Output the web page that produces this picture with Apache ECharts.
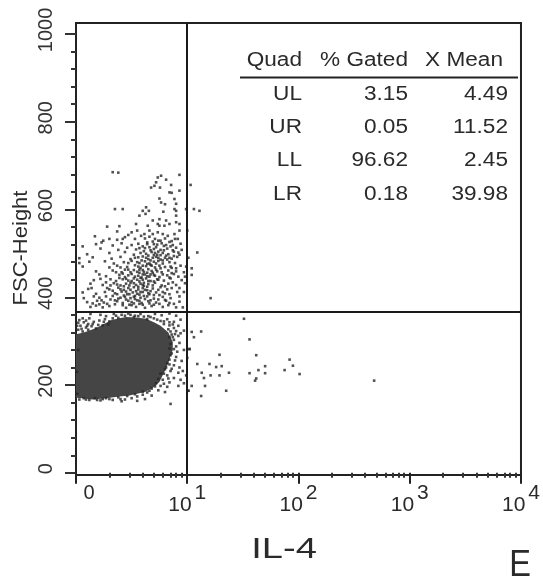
<!DOCTYPE html>
<html>
<head>
<meta charset="utf-8">
<style>html,body{margin:0;padding:0;background:#fff}#main{width:543px;height:582px}</style>
<script src="https://cdn.jsdelivr.net/npm/echarts@6/dist/echarts.min.js"></script>
</head>
<body>
<div id="main"></div>
<script>
// x is stored in decades of IL-4 fluorescence (1 = 10^1), y in FSC-Height channels
var xMajor = [0, 1, 2, 3, 4];
var xMinor = [0.30,0.48,0.60,0.70,0.78,0.85,0.90,0.95,
              1.30,1.48,1.60,1.70,1.78,1.85,1.90,1.95,
              2.30,2.48,2.60,2.70,2.78,2.85,2.90,2.95,
              3.30,3.48,3.60,3.70,3.78,3.85,3.90,3.95];
var yMajor = [0, 200, 400, 600, 800, 1000];
var yMinor = [40,80,120,160,240,280,320,360,440,480,520,560,640,680,720,760,840,880,920,960];
var gateX = 1;
var gateY = 367;

var tableHead = ['Quad', '% Gated', 'X Mean'];
var quadNames = ['UL', 'UR', 'LL', 'LR'];
var pctGated = ['3.15', '0.05', '96.62', '0.18'];
var xMean = ['4.49', '11.52', '2.45', '39.98'];

// saturated part of the LL population, individual events cannot be told apart there
var coreOutline = [[0,316],[0.07,320],[0.14,326],[0.20,332],[0.26,340],[0.32,348],[0.39,352],[0.45,355],[0.54,354],[0.63,351],
  [0.70,343],[0.76,335],[0.83,320],[0.87,298],[0.87,280],[0.85,267],[0.83,250],[0.80,233],[0.75,207],[0.69,194],[0.62,184],
  [0.48,176],[0.39,174],[0.27,170],[0.15,167],[0.06,170],[0,171]];

var upperEvents = [[0.33,685],[0.38,684],[0.735,673],[0.765,677],[0.72,662],[0.705,654],[0.675,650],[0.755,650],
  [0.93,679],[0.81,668],[0.855,656],[0.93,643],[0.84,639],[0.86,638],[0.75,625],[0.765,616],[0.80,612],[0.885,624],
  [0.90,613],[0.885,601],[0.35,601],[0.42,601],[0.63,605],[0.60,597],[0.655,597],[0.625,590],[0.785,595],[0.90,597],
  [0.90,586],[0.99,601],[1.06,601],[1.11,597],[1.03,656],[0.57,586],[0.54,567],[0.69,575],[0.75,578],[0.81,575],
  [0.90,571],[0.645,563],[0.735,567],[0.84,567],[0.66,552],[0.75,563],[0.795,563],[0.93,567],[0.28,561],[0.39,562],
  [0.37,550],[0.55,552],[0.50,548],[0.47,542],[0.44,537],[0.17,539],[0.245,529],[0.23,525],[0.30,533],[0.37,531],
  [0.42,533],[0.53,533],[0.585,540],[0.615,544],[0.69,544],[0.735,548],[0.78,544],[0.825,540],[0.885,544],[0.93,552],
  [1.0,552],[0.915,533],[0.18,521],[0.33,518],[0.41,523],[0.50,519],[0.56,522],[0.60,516],[0.64,525],[0.70,521],
  [0.74,529],[0.79,517],[0.84,526],[0.87,519],[0.94,522],[0.06,516],[0.22,511],[0.38,508],[0.46,513],[0.54,509],
  [0.62,512],[0.67,507],[0.72,514],[0.76,508],[0.82,511],[0.90,513],[0.95,508],[1.09,502],[0.10,498],[0.30,501],
  [0.44,503],[0.52,497],[0.58,501],[0.63,499],[0.68,503],[0.73,497],[0.78,501],[0.83,498],[0.88,504],[0.93,497],
  [0.03,489],[0.15,491],[0.32,488],[0.40,492],[0.49,487],[0.56,491],[0.60,493],[0.65,487],[0.69,490],[0.72,492],
  [0.76,486],[0.80,490],[0.86,488],[0.91,492],[0.03,478],[0.12,481],[0.26,482],[0.34,477],[0.43,480],[0.50,483],
  [0.57,478],[0.62,482],[0.66,477],[0.70,481],[0.74,483],[0.78,477],[0.84,480],[0.89,478],[0.06,470],[0.30,468],
  [0.37,472],[0.46,469],[0.53,473],[0.58,467],[0.63,471],[0.67,474],[0.71,468],[0.75,472],[0.80,469],[0.86,467],
  [0.94,472],[1.04,466],[0.18,459],[0.33,461],[0.41,457],[0.47,463],[0.55,458],[0.60,462],[0.64,456],[0.68,460],
  [0.72,463],[0.77,457],[0.83,461],[0.90,459],[0.97,457],[0.21,452],[0.27,448],[0.39,451],[0.44,446],[0.50,453],
  [0.56,449],[0.59,445],[0.62,452],[0.66,447],[0.70,451],[0.75,446],[0.82,450],[0.88,453],[0.98,447],[1.04,451],
  [0.16,439],[0.22,442],[0.36,437],[0.42,441],[0.47,438],[0.52,443],[0.57,436],[0.60,440],[0.63,443],[0.67,437],
  [0.73,441],[0.79,438],[0.85,443],[0.95,439],[0.13,431],[0.24,428],[0.34,432],[0.40,427],[0.45,431],[0.49,433],
  [0.54,428],[0.58,431],[0.61,426],[0.65,430],[0.71,433],[0.77,427],[0.83,431],[0.90,428],[0.11,419],[0.14,421],
  [0.30,418],[0.38,422],[0.43,417],[0.47,421],[0.52,423],[0.56,418],[0.60,421],[0.64,416],[0.69,420],[0.76,423],
  [0.82,418],[0.93,421],[0.06,411],[0.18,408],[0.26,412],[0.35,409],[0.41,413],[0.46,407],[0.51,411],[0.55,408],
  [0.60,412],[0.66,407],[0.72,411],[0.80,409],[0.91,412],[0.07,398],[0.16,402],[0.21,399],[0.33,403],[0.38,397],
  [0.44,401],[0.49,398],[0.53,403],[0.58,399],[0.64,402],[0.70,397],[0.78,401],[0.85,398],[0.93,402],[1.21,398],
  [0.10,389],[0.19,392],[0.25,388],[0.37,391],[0.42,387],[0.47,392],[0.50,389],[0.55,393],[0.59,387],[0.65,391],
  [0.72,388],[0.81,392],[0.84,387],[0.93,390],[0.13,378],[0.18,381],[0.24,377],[0.30,380],[0.45,376],[0.50,382],
  [0.54,378],[0.60,383],[0.62,376],[0.68,380],[0.78,378],[0.83,382],[0.90,377]];

// the darker diagonal of the UL population
var upperDense = [[0.62,534],[0.66,538],[0.71,533],[0.76,529],[0.80,534],[0.64,521],[0.69,527],[0.73,520],[0.77,523],[0.81,519],
  [0.66,514],[0.70,510],[0.74,504],[0.79,507],[0.71,501],[0.76,496],[0.81,495],[0.65,495],[0.61,505],[0.57,512],
  [0.70,496],[0.74,490],[0.78,484],[0.82,486],[0.67,484],[0.63,490],[0.59,484],[0.55,480],[0.53,490],[0.47,478],
  [0.72,477],[0.68,472],[0.64,476],[0.60,472],[0.56,470],[0.76,466],[0.73,459],[0.69,456],[0.65,464],[0.61,458],
  [0.57,463],[0.52,462],[0.49,457],[0.44,463],[0.40,468],[0.71,449],[0.67,452],[0.64,448],[0.60,452],[0.57,456],
  [0.53,447],[0.47,450],[0.42,454],[0.36,457],[0.78,452],[0.74,440],[0.70,436],[0.65,437],[0.61,433],[0.58,444],
  [0.55,440],[0.50,437],[0.45,442],[0.39,444],[0.31,441],[0.69,427],[0.64,424],[0.60,428],[0.56,424],[0.52,432],
  [0.48,427],[0.43,425],[0.37,429],[0.31,427],[0.27,434],[0.74,417],[0.67,414],[0.62,417],[0.58,412],[0.54,414],
  [0.49,417],[0.45,413],[0.40,418],[0.33,415],[0.28,421],[0.70,405],[0.65,409],[0.61,403],[0.57,406],[0.52,401],
  [0.48,407],[0.43,404],[0.37,407],[0.31,395],[0.27,402],[0.74,395],[0.67,393],[0.62,396],[0.57,392],[0.53,396],
  [0.45,395],[0.40,399],[0.35,393],[0.23,393],[0.15,386],[0.75,385],[0.70,383],[0.66,386],[0.57,385],[0.52,386],
  [0.48,383],[0.42,382],[0.35,384],[0.28,385],[0.21,384],[0.86,528],[0.89,533],[0.87,507],[0.85,516],[0.92,502],
  [0.84,490],[0.88,494],[0.85,470],[0.90,466],[0.86,455],[0.92,447],[0.84,445],[0.87,434],[0.80,425],[0.86,421],
  [0.78,412],[0.84,407],[0.75,405],[0.80,394],[0.88,385],[0.96,377],[0.97,412],[0.98,432],[0.99,470],[1.01,490]];

// fringe of the LL population, around the saturated part
var lowerEvents = [[0.13,362],[0.22,360],[0.27,357],[0.34,362],[0.41,360],[0.47,363],[0.53,358],[0.58,362],[0.65,357],
  [0.71,362],[0.77,359],[0.84,363],[0.90,358],[0.38,353],[0.52,355],[0.64,350],[0.70,352],[0.76,346],[0.82,350],
  [0.88,344],[0.94,349],[0.03,348],[0.07,343],[0.11,339],[0.04,335],[0.09,331],[0.14,334],[0.18,329],[0.02,326],
  [0.06,322],[0.11,326],[0.24,336],[0.29,338],[0.33,352],[0.84,336],[0.88,330],[0.79,339],[0.92,335],[0.97,324],
  [0.85,322],[0.89,316],[0.84,309],[0.88,303],[0.92,312],[0.85,294],[0.90,288],[0.84,283],[0.93,296],[0.97,280],
  [1.02,282],[1.0,262],[0.86,272],[0.90,264],[0.84,258],[0.95,255],[0.82,250],[0.88,245],[0.93,240],[0.80,236],
  [0.85,232],[0.92,228],[0.96,232],[0.99,222],[0.76,226],[0.82,222],[0.88,216],[0.94,212],[0.78,212],[0.84,206],
  [0.72,204],[0.76,198],[0.82,196],[0.92,198],[0.97,204],[1.01,187],[0.68,192],[0.74,188],[0.80,184],[0.64,183],
  [0.60,178],[0.68,176],[0.85,157],[0.55,174],[0.62,168],[0.50,170],[0.44,167],[0.38,172],[0.33,166],[0.27,170],
  [0.22,165],[0.17,170],[0.12,166],[0.07,170],[0.03,167],[0.55,164],[0.41,163],[0.01,180],[0.01,230],[0.02,280],
  [0.16,344],[0.21,347],[0.26,350],[0.30,345],[0.36,358],[0.44,358],[0.49,360],[0.56,357],[0.61,356],[0.67,355],
  [0.73,349],[0.79,345],[0.84,343],[0.87,338],[0.83,327],[0.86,315],[0.90,323],[0.94,318],[0.87,309],[0.88,282],
  [0.91,276],[0.85,268],[0.89,256],[0.84,247],[0.81,240],[0.86,237],[0.79,226],[0.83,215],[0.74,214],[0.79,203],
  [0.71,197],[0.66,187],[0.60,185],[0.53,179],[0.46,175],[0.40,168],[0.30,168],[0.24,168],[0.19,166],[0.09,167],
  [0.01,335],[0.05,328],[0.10,335],[0.15,339],[0.20,337],[0.25,344],[0.02,342],[0.06,352],[0.09,347],[0.12,352]];

var rightEvents = [[1.51,351],[1.04,321],[1.125,322],[1.06,309],[1.56,304],[1.02,282],[1.29,269],[1.62,268],[1.92,258],
  [1.95,244],[1.70,243],[1.875,234],[2.01,225],[1.64,234],[1.70,227],[1.56,227],[1.62,215],[1.61,210],[1.09,248],
  [1.20,248],[1.26,241],[1.31,243],[1.13,228],[1.15,216],[1.21,222],[1.29,222],[1.375,228],[1.04,198],[1.16,198],
  [1.35,187],[1.125,175],[1.01,187],[2.68,210]];

var textColor = '#2a2a2a';
var textFont = 'Liberation Sans, Arial, sans-serif';

function stretched(str, x, y, opts) {
  opts = opts || {};
  return {
    type: 'text',
    x: x,
    y: y,
    rotation: opts.rotation || 0,
    scaleX: opts.scaleX || 1.13,
    silent: true,
    style: {
      text: str,
      fontFamily: textFont,
      fontSize: opts.size || 20,
      fill: textColor,
      textAlign: opts.align || 'right',
      textVerticalAlign: 'middle'
    }
  };
}

var graphics = [];
[[302, tableHead[0]], [408, tableHead[1]], [503, tableHead[2]]].forEach(function (h) {
  graphics.push(stretched(h[1], h[0], 60));
});
graphics.push({
  type: 'line', silent: true,
  shape: {x1: 240, y1: 77.5, x2: 518, y2: 77.5},
  style: {stroke: '#222', lineWidth: 2}
});
var rowY = [94.5, 127, 160.5, 194.5];
quadNames.forEach(function (q, i) {
  graphics.push(stretched(q, 302, rowY[i]));
  graphics.push(stretched(pctGated[i], 408, rowY[i]));
  graphics.push(stretched(xMean[i], 508, rowY[i]));
});
graphics.push(stretched('FSC-Height', 21, 248, {rotation: Math.PI / 2, align: 'center', scaleX: 1.1}));
graphics.push(stretched('IL-4', 284, 550, {size: 30, align: 'center', scaleX: 1.27}));
graphics.push(stretched('E', 520, 566, {size: 37, align: 'center', scaleX: 0.88}));

var dotSeries = function (name, data) {
  return {
    name: name,
    type: 'scatter',
    symbol: 'rect',
    symbolSize: 2.6,
    silent: true,
    itemStyle: {color: '#262626'},
    data: data
  };
};

var chart = echarts.init(document.getElementById('main'));
chart.setOption({
  animation: false,
  backgroundColor: '#fff',
  graphic: graphics,
  grid: {left: 76, top: 23, right: 18, bottom: 107, show: true, borderColor: '#222', borderWidth: 2, backgroundColor: 'transparent'},
  xAxis: [
    {
      type: 'value', min: 0, max: 4, position: 'bottom',
      splitLine: {show: false},
      axisLine: {show: false},
      axisTick: {customValues: xMajor, length: 11, lineStyle: {color: '#222', width: 2}},
      axisLabel: {
        customValues: xMajor, margin: 8, showMinLabel: true, showMaxLabel: true, hideOverlap: false,
        formatter: function (v) {
          return v === 0 ? '{z|0}' : '{b|10}{s|' + v + '}';
        },
        rich: {
          z: {fontFamily: textFont, fontSize: 20, color: textColor, padding: [0, 0, 12, 26]},
          b: {fontFamily: textFont, fontSize: 21, color: textColor, padding: [12, 0, 0, 0]},
          s: {fontFamily: textFont, fontSize: 21, color: textColor, padding: [0, 0, 12, 3]}
        }
      }
    },
    {
      type: 'value', min: 0, max: 4, position: 'bottom',
      splitLine: {show: false},
      axisLine: {show: false},
      axisLabel: {show: false},
      axisTick: {customValues: xMinor, length: 5, lineStyle: {color: '#333', width: 2}}
    }
  ],
  yAxis: [
    {
      type: 'value', min: -5, max: 1025, position: 'left',
      splitLine: {show: false},
      axisLine: {show: false},
      axisTick: {customValues: yMajor, length: 11, lineStyle: {color: '#333', width: 2}},
      axisLabel: {
        customValues: yMajor, rotate: 90, margin: 20,
        fontFamily: textFont, fontSize: 20, color: '#333',
        padding: [0, 0, 0, 8],
        formatter: function (v) { return String(v); }
      }
    },
    {
      type: 'value', min: -5, max: 1025, position: 'left',
      splitLine: {show: false},
      axisLine: {show: false},
      axisLabel: {show: false},
      axisTick: {customValues: yMinor, length: 5, lineStyle: {color: '#333', width: 2}}
    }
  ],
  series: [
    {
      name: 'LL core',
      type: 'custom',
      silent: true,
      data: [0],
      renderItem: function (params, api) {
        return {
          type: 'polygon',
          shape: {points: coreOutline.map(function (p) { return api.coord(p); })},
          style: {fill: '#454545'}
        };
      }
    },
    dotSeries('Upper', upperEvents),
    dotSeries('Upper dense', upperDense),
    dotSeries('Lower', lowerEvents),
    dotSeries('Right', rightEvents),
    {
      name: 'Gates',
      type: 'scatter',
      data: [],
      silent: true,
      markLine: {
        silent: true,
        symbol: 'none',
        label: {show: false},
        lineStyle: {color: '#1a1a1a', width: 2, type: 'solid'},
        data: [{xAxis: gateX}, {yAxis: gateY}]
      }
    }
  ]
});
</script>
</body>
</html>
